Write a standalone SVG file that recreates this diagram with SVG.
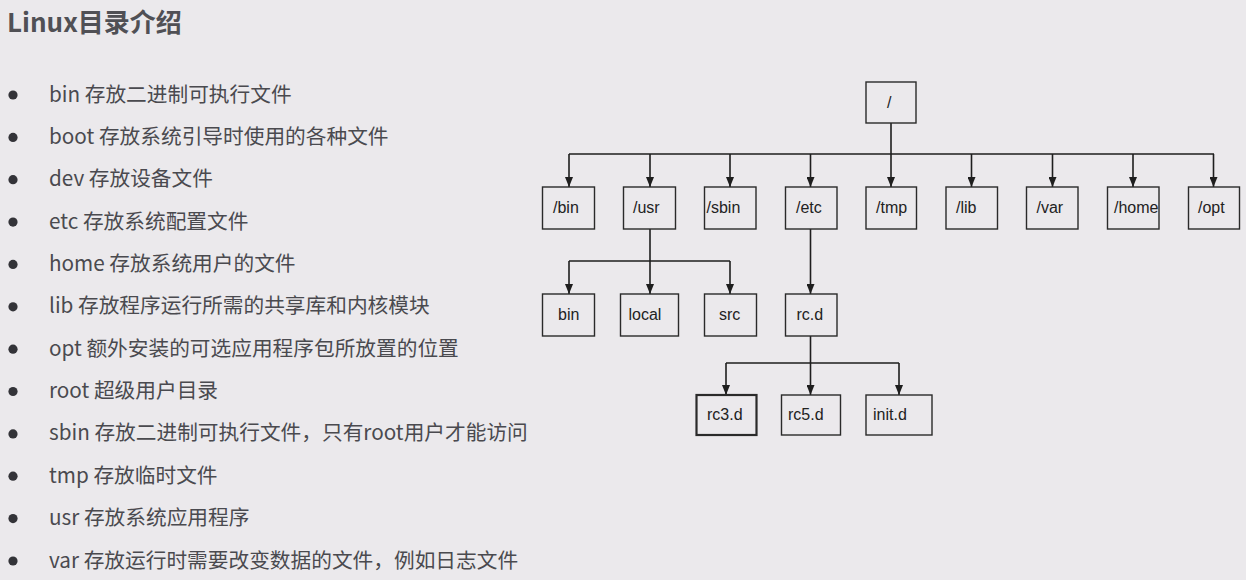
<svg xmlns="http://www.w3.org/2000/svg" width="1246" height="580" viewBox="0 0 1246 580">
<defs>
<style>
.title{font-family:"Noto Sans CJK SC","Noto Sans",sans-serif;font-weight:bold;font-size:26px;fill:#505055}
.item{font-family:"Noto Sans CJK SC","Noto Sans",sans-serif;font-size:20.7px;fill:#4a4a4f}
.dot{fill:#333338}
.box{fill:none;stroke:#2a2a2a;stroke-width:1.4}
.lbl{font-family:"Liberation Sans",Arial,sans-serif;font-size:16px;fill:#222}
.con{fill:none;stroke:#1e1e1e;stroke-width:1.6}
.arr{marker-end:url(#ah)}
</style>
<marker id="ah" viewBox="0 0 10 8" refX="10" refY="4" markerWidth="10" markerHeight="8" markerUnits="userSpaceOnUse" orient="auto">
<path d="M0,0 L10,4 L0,8 z" fill="#1e1e1e"/>
</marker>
</defs>
<rect width="1246" height="580" fill="#ebe9ec"/>
<text class="title" x="7" y="32">Linux目录介绍</text>
<g id="list">
<circle class="dot" cx="13" cy="95" r="4.6"/><text class="item" x="49" y="101.5">bin 存放二进制可执行文件</text>
<circle class="dot" cx="13" cy="137.4" r="4.6"/><text class="item" x="49" y="143.9">boot 存放系统引导时使用的各种文件</text>
<circle class="dot" cx="13" cy="179.7" r="4.6"/><text class="item" x="49" y="186.2">dev 存放设备文件</text>
<circle class="dot" cx="13" cy="222.1" r="4.6"/><text class="item" x="49" y="228.6">etc 存放系统配置文件</text>
<circle class="dot" cx="13" cy="264.4" r="4.6"/><text class="item" x="49" y="270.9">home 存放系统用户的文件</text>
<circle class="dot" cx="13" cy="306.8" r="4.6"/><text class="item" x="49" y="313.3">lib 存放程序运行所需的共享库和内核模块</text>
<circle class="dot" cx="13" cy="349.2" r="4.6"/><text class="item" x="49" y="355.7">opt 额外安装的可选应用程序包所放置的位置</text>
<circle class="dot" cx="13" cy="391.5" r="4.6"/><text class="item" x="49" y="398">root 超级用户目录</text>
<circle class="dot" cx="13" cy="433.9" r="4.6"/><text class="item" x="49" y="440.4">sbin 存放二进制可执行文件，只有root用户才能访问</text>
<circle class="dot" cx="13" cy="476.2" r="4.6"/><text class="item" x="49" y="482.7">tmp 存放临时文件</text>
<circle class="dot" cx="13" cy="518.6" r="4.6"/><text class="item" x="49" y="525.1">usr 存放系统应用程序</text>
<circle class="dot" cx="13" cy="561" r="4.6"/><text class="item" x="49" y="567.5">var 存放运行时需要改变数据的文件，例如日志文件</text>
</g>
<g id="connectors">
<path class="con" d="M569,154 H1214"/>
<path class="con arr" d="M891,123 V187"/>
<path class="con arr" d="M569,154 V187"/>
<path class="con arr" d="M650,154 V187"/>
<path class="con arr" d="M730,154 V187"/>
<path class="con arr" d="M810.5,154 V187"/>
<path class="con arr" d="M971.5,154 V187"/>
<path class="con arr" d="M1052.5,154 V187"/>
<path class="con arr" d="M1133,154 V187"/>
<path class="con arr" d="M1213.5,154 V187"/>
<path class="con" d="M569,261 H730"/>
<path class="con arr" d="M650,229 V294"/>
<path class="con arr" d="M569,261 V294"/>
<path class="con arr" d="M730,261 V294"/>
<path class="con arr" d="M810.5,229 V294"/>
<path class="con" d="M726,363 H899"/>
<path class="con arr" d="M810.5,336 V395"/>
<path class="con arr" d="M726,363 V395"/>
<path class="con arr" d="M899,363 V395"/>
</g>
<g id="root"><rect class="box" x="866" y="82" width="50" height="41"/><text class="lbl" x="887" y="108">/</text></g>
<g id="n-bin"><rect class="box" x="542.5" y="187" width="52" height="42"/><text class="lbl" x="553" y="213">/bin</text></g>
<g id="n-usr"><rect class="box" x="623.5" y="187" width="52" height="42"/><text class="lbl" x="633" y="213">/usr</text></g>
<g id="n-sbin"><rect class="box" x="704.5" y="187" width="51.5" height="42"/><text class="lbl" x="706.5" y="213">/sbin</text></g>
<g id="n-etc"><rect class="box" x="785.5" y="187" width="51.5" height="42"/><text class="lbl" x="796" y="213">/etc</text></g>
<g id="n-tmp"><rect class="box" x="866" y="187" width="50.5" height="42"/><text class="lbl" x="876" y="213">/tmp</text></g>
<g id="n-lib"><rect class="box" x="946" y="187" width="51.5" height="42"/><text class="lbl" x="956" y="213">/lib</text></g>
<g id="n-var"><rect class="box" x="1026.5" y="187" width="51.5" height="42"/><text class="lbl" x="1036.5" y="213">/var</text></g>
<g id="n-home"><rect class="box" x="1107.5" y="187" width="51.5" height="42"/><text class="lbl" x="1114" y="213">/home</text></g>
<g id="n-opt"><rect class="box" x="1188.5" y="187" width="51" height="42"/><text class="lbl" x="1198" y="213">/opt</text></g>
<g id="n-usr-bin"><rect class="box" x="542.5" y="294" width="52" height="42"/><text class="lbl" x="558" y="320">bin</text></g>
<g id="n-local"><rect class="box" x="620.5" y="294" width="58" height="42"/><text class="lbl" x="628.5" y="320">local</text></g>
<g id="n-src"><rect class="box" x="704.5" y="294" width="52" height="42"/><text class="lbl" x="719" y="320">src</text></g>
<g id="n-rcd"><rect class="box" x="785.5" y="294" width="51.5" height="42"/><text class="lbl" x="796.5" y="320">rc.d</text></g>
<g id="n-rc3"><rect class="box" x="696.5" y="395" width="60" height="40" style="stroke-width:2.2"/><text class="lbl" x="707" y="420">rc3.d</text></g>
<g id="n-rc5"><rect class="box" x="781.5" y="395" width="59" height="40"/><text class="lbl" x="788" y="420">rc5.d</text></g>
<g id="n-init"><rect class="box" x="866" y="395" width="66" height="40"/><text class="lbl" x="873" y="420">init.d</text></g>
</svg>
